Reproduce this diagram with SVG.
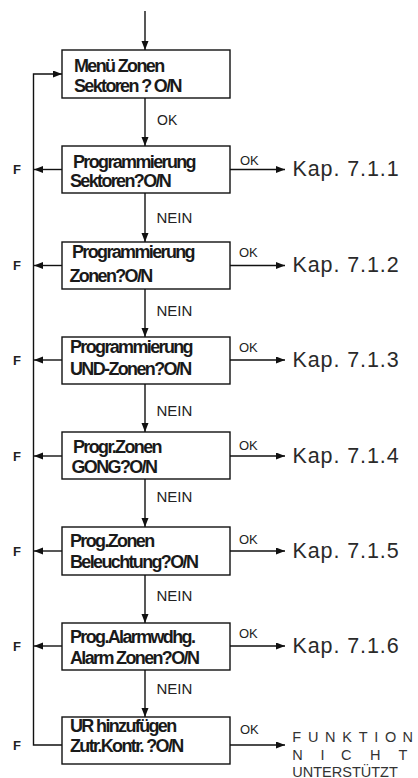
<svg xmlns="http://www.w3.org/2000/svg" width="418" height="778" viewBox="0 0 418 778">
<style>
.box{fill:#fff;stroke:#111;stroke-width:1.4}
.ln{fill:none;stroke:#111;stroke-width:1.4}
.bt{font-family:"Liberation Sans",Arial,sans-serif;font-weight:bold;font-size:18px;letter-spacing:-1.65px;fill:#1a1a1a}
.ok{font-family:"Liberation Sans",Arial,sans-serif;font-size:13px;fill:#222}
.nein{font-family:"Liberation Sans",Arial,sans-serif;font-size:15px;fill:#222}
.kap{font-family:"Liberation Sans",Arial,sans-serif;font-size:21.5px;letter-spacing:0.9px;fill:#2a2a2a}
.f{font-family:"Liberation Sans",Arial,sans-serif;font-weight:bold;font-size:13px;fill:#222}
.fn{font-family:"Liberation Sans",Arial,sans-serif;font-size:14.5px;fill:#333}
</style>
<defs>
<marker id="ah" markerUnits="userSpaceOnUse" markerWidth="10" markerHeight="8" refX="9" refY="3.5" orient="auto">
<path d="M0,0 L9,3.5 L0,7 z" fill="#111"/>
</marker>
</defs>
<g id="connectors">
<line class="ln" x1="145" y1="11" x2="145" y2="50" marker-end="url(#ah)"/>
<line class="ln" x1="145" y1="98" x2="145" y2="146" marker-end="url(#ah)"/>
<line class="ln" x1="145" y1="193" x2="145" y2="242" marker-end="url(#ah)"/>
<line class="ln" x1="145" y1="289" x2="145" y2="337" marker-end="url(#ah)"/>
<line class="ln" x1="145" y1="384" x2="145" y2="432" marker-end="url(#ah)"/>
<line class="ln" x1="145" y1="479" x2="145" y2="527" marker-end="url(#ah)"/>
<line class="ln" x1="145" y1="575" x2="145" y2="623" marker-end="url(#ah)"/>
<line class="ln" x1="145" y1="670" x2="145" y2="717" marker-end="url(#ah)"/>
<path class="ln" d="M62,745 H33.5 V74 H62" marker-end="url(#ah)"/>
<line class="ln" x1="62" y1="169.5" x2="34" y2="169.5" marker-end="url(#ah)"/>
<line class="ln" x1="62" y1="265.5" x2="34" y2="265.5" marker-end="url(#ah)"/>
<line class="ln" x1="62" y1="360" x2="34" y2="360" marker-end="url(#ah)"/>
<line class="ln" x1="62" y1="456" x2="34" y2="456" marker-end="url(#ah)"/>
<line class="ln" x1="62" y1="551" x2="34" y2="551" marker-end="url(#ah)"/>
<line class="ln" x1="62" y1="646" x2="34" y2="646" marker-end="url(#ah)"/>
<line class="ln" x1="230" y1="169.5" x2="285" y2="169.5" marker-end="url(#ah)"/>
<line class="ln" x1="230" y1="265.5" x2="285" y2="265.5" marker-end="url(#ah)"/>
<line class="ln" x1="230" y1="360" x2="285" y2="360" marker-end="url(#ah)"/>
<line class="ln" x1="230" y1="456" x2="285" y2="456" marker-end="url(#ah)"/>
<line class="ln" x1="230" y1="551" x2="285" y2="551" marker-end="url(#ah)"/>
<line class="ln" x1="230" y1="646" x2="285" y2="646" marker-end="url(#ah)"/>
<line class="ln" x1="230" y1="745" x2="285" y2="745" marker-end="url(#ah)"/>
<text class="ok" x="157" y="124.5" style="font-size:14px">OK</text>
<text class="nein" x="156.5" y="222.5">NEIN</text>
<text class="nein" x="156.5" y="316">NEIN</text>
<text class="nein" x="156.5" y="416">NEIN</text>
<text class="nein" x="156.5" y="502">NEIN</text>
<text class="nein" x="156.5" y="601">NEIN</text>
<text class="nein" x="156.5" y="694">NEIN</text>
<text class="ok" x="240" y="165">OK</text>
<text class="ok" x="239" y="256.5">OK</text>
<text class="ok" x="239" y="351.5">OK</text>
<text class="ok" x="239" y="450">OK</text>
<text class="ok" x="239" y="543.5">OK</text>
<text class="ok" x="239" y="638">OK</text>
<text class="ok" x="240" y="733.5">OK</text>
<text class="f" x="13" y="174">F</text>
<text class="f" x="13" y="270">F</text>
<text class="f" x="13" y="364.5">F</text>
<text class="f" x="13" y="460.5">F</text>
<text class="f" x="13" y="555.5">F</text>
<text class="f" x="13" y="650.5">F</text>
<text class="f" x="13" y="749.5">F</text>
<text class="kap" x="292.5" y="176">Kap. 7.1.1</text>
<text class="kap" x="292.5" y="272">Kap. 7.1.2</text>
<text class="kap" x="292.5" y="366.5">Kap. 7.1.3</text>
<text class="kap" x="292.5" y="462.5">Kap. 7.1.4</text>
<text class="kap" x="292.5" y="557.5">Kap. 7.1.5</text>
<text class="kap" x="292.5" y="652.5">Kap. 7.1.6</text>
<text class="fn" x="292.3 307.9 325.1 342.3 358.7 374.2 384.9 402.4" y="741.5">FUNKTION</text>
<text class="fn" x="292.3 320.5 341 370 398.5" y="760">NICHT</text>
<text class="fn" x="292.3" y="776.5">UNTERSTÜTZT</text>
</g>
<g id="n1"><rect class="box" x="62" y="50" width="168" height="48"/><text class="bt" x="74" y="72">Menü Zonen</text><text class="bt" x="74" y="91.5">Sektoren ? O/N</text></g>
<g id="n2"><rect class="box" x="62" y="146" width="168" height="47"/><text class="bt" x="73" y="167.5">Programmierung</text><text class="bt" x="70" y="187">Sektoren?O/N</text></g>
<g id="n3"><rect class="box" x="62" y="242" width="168" height="47"/><text class="bt" x="72" y="257.5">Programmierung</text><text class="bt" x="69.5" y="282">Zonen?O/N</text></g>
<g id="n4"><rect class="box" x="62" y="337" width="168" height="47"/><text class="bt" x="70" y="352.5">Programmierung</text><text class="bt" x="70" y="375">UND-Zonen?O/N</text></g>
<g id="n5"><rect class="box" x="62" y="432" width="168" height="47"/><text class="bt" x="73" y="452.5">Progr.Zonen</text><text class="bt" x="71.5" y="472.5">GONG?O/N</text></g>
<g id="n6"><rect class="box" x="62" y="527" width="168" height="48"/><text class="bt" x="70" y="546.5">Prog.Zonen</text><text class="bt" x="70" y="568">Beleuchtung?O/N</text></g>
<g id="n7"><rect class="box" x="62" y="623" width="168" height="47"/><text class="bt" x="70" y="642.5">Prog.Alarmwdhg.</text><text class="bt" x="70" y="664">Alarm Zonen?O/N</text></g>
<g id="n8"><rect class="box" x="62" y="717" width="168" height="47"/><text class="bt" x="70" y="732">UR hinzufügen</text><text class="bt" x="70" y="751.5">Zutr.Kontr. ?O/N</text></g>
</svg>
